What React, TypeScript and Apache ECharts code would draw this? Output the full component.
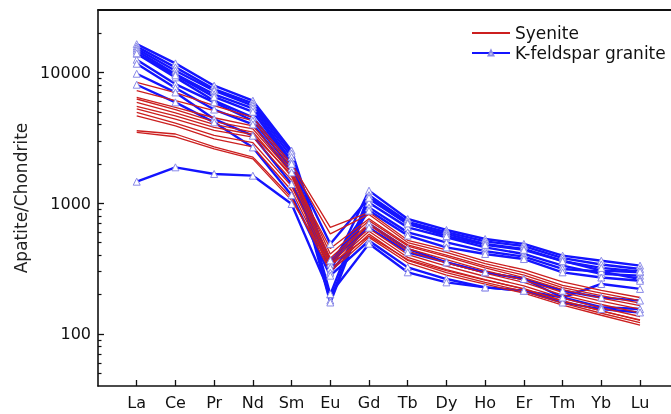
import React, { useEffect, useRef } from 'react';
import * as echarts from 'echarts';

const elements = ['La', 'Ce', 'Pr', 'Nd', 'Sm', 'Eu', 'Gd', 'Tb', 'Dy', 'Ho', 'Er', 'Tm', 'Yb', 'Lu'];
const elementPositions = [1, 2, 3, 4, 5, 6, 7, 8, 9, 10, 11, 12, 13, 14];
const yMajorTicks = [100, 1000, 10000];
const yMinorTicks = [50, 60, 70, 80, 90, 200, 300, 400, 500, 600, 700, 800, 900, 2000, 3000, 4000, 5000, 6000, 7000, 8000, 9000, 20000];

// Syenite samples (apatite / chondrite)
const syenite01 = [8400, 7000, 5560, 4530, 2000, 653, 851, 520, 440, 360, 310, 250, 215, 190];
const syenite02 = [7260, 6080, 5100, 4270, 1900, 582, 820, 500, 420, 345, 295, 235, 205, 180];
const syenite03 = [6450, 5400, 4500, 3900, 1800, 409, 735, 470, 390, 320, 270, 218, 188, 165];
const syenite04 = [6260, 5200, 4200, 3700, 1700, 380, 700, 450, 370, 305, 258, 208, 178, 155];
const syenite05 = [5900, 4900, 4000, 3500, 1600, 360, 680, 430, 350, 292, 248, 198, 168, 145];
const syenite06 = [5250, 4400, 3600, 3200, 1500, 345, 640, 405, 330, 275, 233, 188, 158, 136];
const syenite07 = [4940, 4100, 3300, 2900, 1350, 330, 610, 385, 310, 260, 220, 178, 150, 128];
const syenite08 = [4660, 3900, 3100, 2700, 1250, 310, 580, 365, 295, 248, 212, 172, 144, 122];
const syenite09 = [3580, 3380, 2700, 2250, 1100, 300, 548, 350, 282, 240, 205, 166, 139, 117];
const syenite10 = [3480, 3220, 2600, 2180, 1050, 340, 560, 370, 305, 258, 222, 180, 150, 127];
const syenite11 = [5500, 4650, 3800, 3350, 1650, 450, 760, 480, 400, 330, 282, 226, 196, 172];

// K-feldspar granite samples
const granite01 = [16430, 11720, 7910, 6080, 2520, 300, 1247, 757, 624, 532, 488, 397, 363, 333];
const granite02 = [15740, 10920, 7460, 5800, 2400, 200, 1150, 720, 600, 510, 470, 380, 340, 314];
const granite03 = [15180, 10300, 7250, 5560, 2250, 180, 1081, 693, 582, 488, 447, 363, 305, 296];
const granite04 = [14650, 9720, 6800, 5300, 2100, 174, 1008, 653, 548, 459, 409, 333, 288, 279];
const granite05 = [13900, 9160, 6080, 4530, 1995, 344, 925, 598, 501, 430, 390, 314, 300, 263];
const granite06 = [12500, 8140, 5900, 4270, 1850, 321, 877, 565, 459, 409, 374, 296, 270, 255];
const granite07 = [11650, 7600, 5200, 4000, 1720, 294, 697, 447, 353, 296, 263, 214, 190, 180];
const granite08 = [9770, 7030, 4400, 3280, 1400, 365, 650, 421, 353, 296, 263, 190, 160, 155];
const granite09 = [8050, 5900, 4150, 2670, 1150, 279, 516, 323, 263, 227, 214, 174, 155, 146];
const granite10 = [1460, 1880, 1672, 1623, 986, 202, 490, 296, 248, 227, 214, 190, 241, 221];
const granite11 = [14000, 9500, 6500, 5000, 2000, 488, 1100, 700, 560, 480, 440, 360, 320, 300];

const syeniteSamples = [syenite01, syenite02, syenite03, syenite04, syenite05, syenite06, syenite07, syenite08, syenite09, syenite10, syenite11];
const graniteSamples = [granite01, granite02, granite03, granite04, granite05, granite06, granite07, granite08, granite09, granite10, granite11];

export default function App() {
  const ref = useRef<HTMLDivElement>(null);
  useEffect(() => {
    if (!ref.current) return;
    const chart = echarts.init(ref.current, null, { renderer: 'svg' });
    const font = 'DejaVu Sans';
    const toPoints = (vals: number[]) => vals.map((v, i) => [elementPositions[i], v]);
    const series: any[] = [
      ...graniteSamples.map((s) => ({
        type: 'line',
        name: 'K-feldspar granite',
        data: toPoints(s),
        symbol: 'triangle',
        symbolSize: 7,
        showSymbol: true,
        xAxisIndex: 0,
        yAxisIndex: 0,
        lineStyle: { color: '#1414ff', width: 2.4 },
        itemStyle: { color: '#ffffff', borderColor: '#8a8ae8', borderWidth: 1 },
        emphasis: { disabled: true },
      })),
      ...syeniteSamples.map((s) => ({
        type: 'line',
        name: 'Syenite',
        data: toPoints(s),
        symbol: 'none',
        xAxisIndex: 0,
        yAxisIndex: 0,
        lineStyle: { color: '#cc1f1f', width: 1.3 },
        itemStyle: { color: '#cc1f1f' },
        emphasis: { disabled: true },
      })),
    ];
    chart.setOption({
      animation: false,
      grid: { left: 98, right: 0, top: 10, bottom: 28, containLabel: false },
      legend: {
        data: [
          { name: 'Syenite', itemStyle: { opacity: 0 } },
          { name: 'K-feldspar granite' },
        ],
        orient: 'vertical',
        left: 466,
        top: 19,
        itemWidth: 38,
        itemHeight: 6,
        itemGap: 2,
        textStyle: { fontFamily: font, fontSize: 17, color: '#111', lineHeight: 18 },
      },
      xAxis: [
        {
          type: 'value',
          position: 'bottom',
          min: 0,
          max: 14.8,
          splitLine: { show: false },
          axisLine: { show: true, lineStyle: { color: '#111', width: 1.6 } },
          axisTick: { show: true, inside: true, length: 6, customValues: elementPositions, lineStyle: { color: '#111', width: 1.3 } },
          axisLabel: {
            customValues: elementPositions,
            formatter: (v: number) => elements[Math.round(v) - 1] ?? '',
            fontFamily: font,
            fontSize: 16,
            color: '#111',
            margin: 8,
          },
        },
        {
          type: 'value',
          position: 'top',
          min: 0,
          max: 14.8,
          splitLine: { show: false },
          axisLine: { show: true, lineStyle: { color: '#111', width: 1.8 } },
          axisTick: { show: false },
          axisLabel: { show: false },
        },
      ],
      yAxis: [
        {
          type: 'log',
          logBase: 10,
          min: 40,
          max: 30000,
          name: 'Apatite/Chondrite',
          nameLocation: 'middle',
          nameGap: 68,
          nameTextStyle: { fontFamily: font, fontSize: 17, color: '#222' },
          splitLine: { show: false },
          axisLine: { show: true, lineStyle: { color: '#111', width: 1.6 } },
          axisTick: { show: true, inside: true, length: 6, customValues: yMajorTicks, lineStyle: { color: '#111', width: 1.3 } },
          axisLabel: {
            customValues: yMajorTicks,
            formatter: (v: number) => String(Math.round(v)),
            fontFamily: font,
            fontSize: 16,
            color: '#111',
            margin: 7,
          },
        },
        {
          type: 'log',
          logBase: 10,
          min: 40,
          max: 30000,
          position: 'left',
          splitLine: { show: false },
          axisLine: { show: false },
          axisTick: { show: true, inside: true, length: 3.5, customValues: yMinorTicks, lineStyle: { color: '#111', width: 1.2 } },
          axisLabel: { show: false },
        },
      ],
      series,
    });
    return () => chart.dispose();
  }, []);
  return <div ref={ref} style={{ position: 'fixed', left: 0, top: 0, width: 671, height: 414 }} />;
}
